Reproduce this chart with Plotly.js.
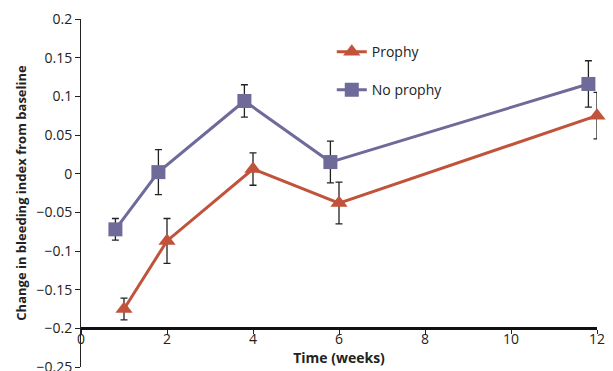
<!DOCTYPE html>
<html>
<head>
<meta charset="utf-8">
<script src="https://cdn.plot.ly/plotly-3.0.1.min.js"></script>
<style>html,body{margin:0;padding:0;background:#fff;}#chart{width:613px;height:371px;}</style>
</head>
<body>
<div id="chart"></div>
<script>
// Data
const prophyWeeks = [1.0, 2.0, 4.0, 6.0, 12.0];
const prophyValues = [-0.175, -0.087, 0.006, -0.038, 0.075];
const prophyErrors = [0.014, 0.029, 0.021, 0.027, 0.030];

const noProphyWeeks = [0.8, 1.8, 3.8, 5.8, 11.8];
const noProphyValues = [-0.072, 0.002, 0.094, 0.015, 0.116];
const noProphyErrors = [0.014, 0.029, 0.021, 0.027, 0.030];

const yTicks = [-0.25, -0.2, -0.15, -0.1, -0.05, 0, 0.05, 0.1, 0.15, 0.2];
const yTickLabels = ['\u22120.25', '\u22120.2', '\u22120.15', '\u22120.1', '\u22120.05', '0', '0.05', '0.1', '0.15', '0.2'];
const xTicks = [0, 2, 4, 6, 8, 10, 12];

const errStyle = {type: 'data', visible: true, color: '#222222', thickness: 1.3, width: 3.5};

const traces = [
  {
    x: prophyWeeks, y: prophyValues, name: 'Prophy', legendgroup: 'a',
    mode: 'lines+markers', type: 'scatter', cliponaxis: false,
    line: {color: '#C0533A', width: 3},
    marker: {symbol: 'triangle-up', size: 15, color: '#C0533A'},
    error_y: Object.assign({array: prophyErrors}, errStyle)
  },
  {
    x: noProphyWeeks, y: noProphyValues, name: 'No prophy', legendgroup: 'b',
    mode: 'lines+markers', type: 'scatter', cliponaxis: false,
    line: {color: '#6E6A99', width: 3},
    marker: {symbol: 'square', size: 14, color: '#6E6A99'},
    error_y: Object.assign({array: noProphyErrors}, errStyle)
  }
];

const layout = {
  width: 613, height: 371,
  margin: {l: 81, r: 16, t: 19, b: 4},
  paper_bgcolor: '#ffffff', plot_bgcolor: '#ffffff',
  font: {family: 'Open Sans, sans-serif', size: 13, color: '#222222'},
  showlegend: true,
  legend: {
    x: 0.486, y: 0.951, xanchor: 'left', yanchor: 'top',
    traceorder: 'grouped', tracegroupgap: 17,
    font: {size: 14, color: '#222222'}, bgcolor: 'rgba(0,0,0,0)'
  },
  xaxis: {
    range: [0, 12], anchor: 'free', position: 0.1111,
    tickvals: xTicks, ticks: 'outside', ticklen: 4, tickcolor: '#222',
    ticklabelstandoff: -7,
    showline: true, linecolor: '#111', linewidth: 2.5,
    showgrid: false, zeroline: false,
    tickfont: {size: 14},
    title: {text: '<b>Time (weeks)</b>', font: {size: 14}, standoff: 2}
  },
  yaxis: {
    range: [-0.25, 0.2],
    tickvals: yTicks, ticktext: yTickLabels, ticks: 'outside', ticklen: 5, tickcolor: '#222',
    ticklabeloverflow: 'allow',
    showline: true, linecolor: '#222', linewidth: 1,
    showgrid: false, zeroline: false,
    tickfont: {size: 14},
    title: {text: '<b>Change in bleeding index from baseline</b>', font: {size: 13}, standoff: 6}
  }
};

Plotly.newPlot('chart', traces, layout, {displayModeBar: false, staticPlot: true});
</script>
</body>
</html>
